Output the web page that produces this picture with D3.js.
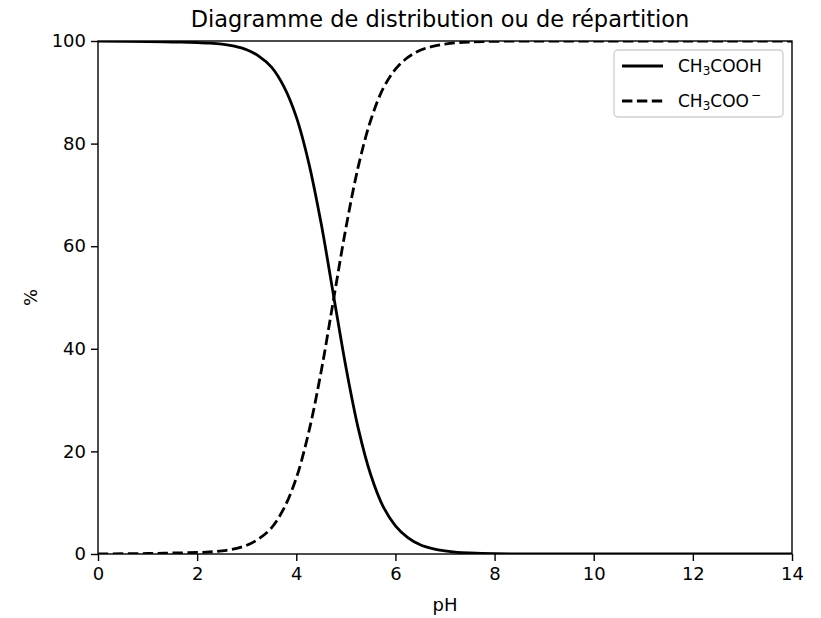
<!DOCTYPE html>
<html>
<head>
<meta charset="utf-8">
<script src="https://cdn.jsdelivr.net/npm/d3@7"></script>
<style>
  body { margin: 0; background: #fff; }
  svg { font-family: "DejaVu Sans", sans-serif; }
  .tick text { font-size: 18px; fill: #000; }
  .tick line { stroke: #000; }
</style>
</head>
<body>
<svg width="821" height="618"></svg>
<script>
var phValues = [0, 1, 1.5, 2, 2.25, 2.5, 2.75, 3, 3.25, 3.5, 3.75, 4, 4.25, 4.5, 4.75, 5, 5.25, 5.5,
    5.75, 6, 6.25, 6.5, 6.75, 7, 7.25, 7.5, 8, 9, 10, 12, 14];
// % CH3COOH (solid)
var acidPct = [100, 99.9, 99.8, 99.7, 99.6, 99.4, 99, 98.3, 97, 94.9, 91.1, 85.2, 76.3, 64.5, 50.5, 36.5, 24.5, 15.5,
    9.3, 5.5, 3.2, 1.8, 1.05, 0.6, 0.33, 0.2, 0.06, 0, 0, 0, 0];
// % CH3COO- (dashed)
var basePct = [0, 0.1, 0.2, 0.3, 0.4, 0.6, 1, 1.7, 3, 5.1, 8.9, 14.8, 23.7, 35.5, 49.5, 63.5, 75.5, 84.5,
    90.7, 94.5, 96.8, 98.2, 98.95, 99.4, 99.67, 99.8, 99.94, 100, 100, 100, 100];
var xTicks = [0, 2, 4, 6, 8, 10, 12, 14];
var yTicks = [0, 20, 40, 60, 80, 100];

var svg = d3.select('svg');
var plot = { l: 98, r: 792, t: 41, b: 554 };
var lw = 2.8;
var dash = '10.4,4.5';

var x = d3.scaleLinear().domain([0, 14]).range([plot.l, plot.r]);
var y = d3.scaleLinear().domain([0, 100]).range([plot.b, plot.t]);

// lines are clipped to the plot area, like matplotlib does
svg.append('defs').append('clipPath')
    .attr('id', 'plot-clip')
    .append('rect')
    .attr('x', plot.l).attr('y', plot.t)
    .attr('width', plot.r - plot.l).attr('height', plot.b - plot.t);

var line = d3.line()
    .x(function (d) { return x(d[0]); })
    .y(function (d) { return y(d[1]); })
    .curve(d3.curveCatmullRom.alpha(0.5));

var acidData = phValues.map(function (p, i) { return [p, acidPct[i]]; });
var baseData = phValues.map(function (p, i) { return [p, basePct[i]]; });

var linesG = svg.append('g').attr('clip-path', 'url(#plot-clip)');

linesG.append('path')
    .datum(acidData)
    .attr('d', line)
    .attr('fill', 'none')
    .attr('stroke', '#000')
    .attr('stroke-width', lw);

linesG.append('path')
    .datum(baseData)
    .attr('d', line)
    .attr('fill', 'none')
    .attr('stroke', '#000')
    .attr('stroke-width', lw)
    .attr('stroke-dasharray', dash);

// axes
svg.append('g')
    .attr('transform', 'translate(0,' + plot.b + ')')
    .call(d3.axisBottom(x).tickValues(xTicks).tickSize(7).tickPadding(6).tickSizeOuter(0))
    .call(function (g) { g.select('.domain').remove(); });

svg.append('g')
    .attr('transform', 'translate(' + plot.l + ',0)')
    .call(d3.axisLeft(y).tickValues(yTicks).tickSize(7).tickPadding(5).tickSizeOuter(0))
    .call(function (g) { g.select('.domain').remove(); });

svg.selectAll('.tick line').attr('stroke-width', 1.4);
svg.selectAll('.tick text').attr('font-family', '"DejaVu Sans", sans-serif');

// frame
svg.append('rect')
    .attr('x', plot.l).attr('y', plot.t)
    .attr('width', plot.r - plot.l).attr('height', plot.b - plot.t)
    .attr('fill', 'none').attr('stroke', '#000').attr('stroke-width', 1.4);

// labels
svg.append('text')
    .attr('x', (plot.l + plot.r) / 2 - 5).attr('y', 27)
    .attr('text-anchor', 'middle')
    .attr('font-size', 22.5)
    .text('Diagramme de distribution ou de répartition');

svg.append('text')
    .attr('x', (plot.l + plot.r) / 2).attr('y', 611)
    .attr('text-anchor', 'middle')
    .attr('font-size', 18)
    .text('pH');

svg.append('text')
    .attr('transform', 'translate(37,' + ((plot.t + plot.b) / 2) + ')rotate(-90)')
    .attr('text-anchor', 'middle')
    .attr('font-size', 18)
    .text('%');

// legend
var legend = svg.append('g').attr('transform', 'translate(614,50)');
legend.append('rect')
    .attr('width', 169).attr('height', 67)
    .attr('rx', 4)
    .attr('fill', '#fff').attr('fill-opacity', 0.8)
    .attr('stroke', '#d0d0d0').attr('stroke-width', 1.4);

var entries = [
    { dash: null, main: 'CH', sub: '3', rest: 'COOH', sup: '' },
    { dash: dash, main: 'CH', sub: '3', rest: 'COO', sup: '\u2212' }
];

entries.forEach(function (e, i) {
    var cy = 16 + i * 35;
    legend.append('line')
        .attr('x1', 8).attr('x2', 49)
        .attr('y1', cy).attr('y2', cy)
        .attr('stroke', '#000').attr('stroke-width', lw)
        .attr('stroke-dasharray', e.dash);
    var t = legend.append('text')
        .attr('x', 64).attr('y', cy + 6)
        .attr('font-size', 17);
    t.append('tspan').text(e.main);
    t.append('tspan').attr('font-size', 12).attr('dy', 3).text(e.sub);
    t.append('tspan').attr('dy', -3).text(e.rest);
    if (e.sup) {
        t.append('tspan').attr('font-size', 12).attr('dy', -8).attr('dx', 2).text(e.sup);
    }
});
</script>
</body>
</html>
